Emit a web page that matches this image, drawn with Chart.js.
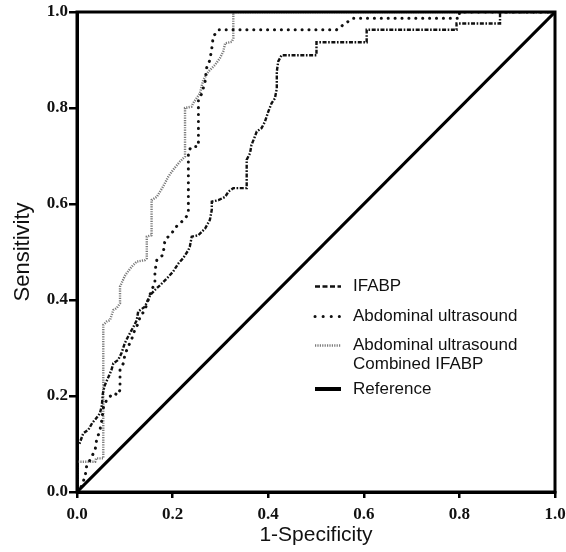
<!DOCTYPE html>
<html>
<head>
<meta charset="utf-8">
<script src="https://cdn.jsdelivr.net/npm/chart.js@4.4.1/dist/chart.umd.min.js"></script>
<style>
  html, body { margin: 0; padding: 0; background: #fff; }
  #wrap { width: 566px; height: 552px; }
</style>
</head>
<body>
<div id="wrap"><canvas id="c" width="566" height="552"></canvas></div>
<script>
// ---- Data ----
const xTicks = [0, 0.2, 0.4, 0.6, 0.8, 1.0];
const yTicks = [0, 0.2, 0.4, 0.6, 0.8, 1.0];

const ifabpX = [0, 0, 0.005, 0.013, 0.024, 0.032, 0.039, 0.048, 0.052, 0.054, 0.058, 0.066, 0.072, 0.076, 0.086, 0.093, 0.100, 0.107, 0.118, 0.125, 0.128, 0.142, 0.153, 0.163, 0.174, 0.188, 0.201, 0.212, 0.222, 0.233, 0.236, 0.240, 0.254, 0.268, 0.278, 0.282, 0.282, 0.296, 0.310, 0.317, 0.327, 0.355, 0.355, 0.362, 0.365, 0.372, 0.376, 0.386, 0.393, 0.400, 0.407, 0.414, 0.418, 0.418, 0.421, 0.428, 0.501, 0.501, 0.606, 0.606, 0.794, 0.794, 0.885, 0.885, 1.0];
const ifabpY = [0, 0.097, 0.100, 0.122, 0.130, 0.144, 0.152, 0.164, 0.180, 0.205, 0.222, 0.240, 0.254, 0.268, 0.275, 0.289, 0.310, 0.324, 0.344, 0.358, 0.376, 0.386, 0.410, 0.421, 0.431, 0.445, 0.459, 0.476, 0.487, 0.504, 0.511, 0.532, 0.535, 0.549, 0.567, 0.588, 0.605, 0.608, 0.615, 0.626, 0.633, 0.633, 0.692, 0.706, 0.723, 0.740, 0.751, 0.758, 0.771, 0.792, 0.810, 0.820, 0.841, 0.876, 0.897, 0.910, 0.910, 0.937, 0.937, 0.963, 0.963, 0.976, 0.976, 1.0, 1.0];

const usX = [0, 0.007, 0.017, 0.020, 0.031, 0.038, 0.041, 0.048, 0.052, 0.055, 0.062, 0.069, 0.076, 0.086, 0.090, 0.090, 0.097, 0.100, 0.107, 0.114, 0.121, 0.128, 0.132, 0.142, 0.149, 0.156, 0.163, 0.163, 0.167, 0.180, 0.184, 0.198, 0.208, 0.219, 0.229, 0.233, 0.233, 0.240, 0.254, 0.254, 0.261, 0.268, 0.271, 0.278, 0.282, 0.285, 0.296, 0.543, 0.561, 0.578, 0.800, 0.800, 1.0];
const usY = [0, 0.007, 0.032, 0.053, 0.074, 0.088, 0.108, 0.129, 0.150, 0.175, 0.192, 0.199, 0.206, 0.202, 0.213, 0.254, 0.268, 0.285, 0.303, 0.317, 0.338, 0.351, 0.365, 0.379, 0.400, 0.421, 0.435, 0.459, 0.483, 0.494, 0.525, 0.539, 0.553, 0.563, 0.574, 0.580, 0.710, 0.720, 0.720, 0.817, 0.830, 0.855, 0.883, 0.900, 0.924, 0.949, 0.963, 0.963, 0.976, 0.987, 0.987, 1.0, 1.0];

const combX = [0, 0, 0.038, 0.040, 0.055, 0.055, 0.062, 0.069, 0.076, 0.083, 0.090, 0.090, 0.100, 0.104, 0.114, 0.125, 0.142, 0.146, 0.146, 0.156, 0.156, 0.167, 0.180, 0.191, 0.201, 0.215, 0.226, 0.226, 0.240, 0.243, 0.257, 0.264, 0.275, 0.289, 0.299, 0.306, 0.310, 0.324, 0.327, 0.327, 1.0];
const combY = [0, 0.063, 0.063, 0.070, 0.070, 0.348, 0.355, 0.358, 0.379, 0.383, 0.393, 0.428, 0.450, 0.456, 0.469, 0.480, 0.483, 0.487, 0.532, 0.535, 0.608, 0.615, 0.636, 0.657, 0.671, 0.688, 0.699, 0.800, 0.803, 0.810, 0.830, 0.858, 0.876, 0.890, 0.904, 0.918, 0.935, 0.938, 0.945, 1.0, 1.0];

const refX = [0, 1];
const refY = [0, 1];

const seriesLabels = ["IFABP", "Abdominal ultrasound", "Abdominal ultrasound\nCombined IFABP", "Reference"];

// ---- Build ----
function pts(xs, ys) { return xs.map((x, i) => ({ x: x, y: ys[i] })); }

const styles = [
  { color: '#111', width: 2.4, dash: [4, 1.6, 1.6, 1.6], cap: 'butt' },
  { color: '#111', width: 3, dash: [0.1, 6.8], cap: 'round' },
  { color: '#7a7a7a', width: 2.4, dash: [1.2, 1.2], cap: 'butt' },
  { color: '#000', width: 3, dash: [], cap: 'butt' }
];

const allData = [pts(ifabpX, ifabpY), pts(usX, usY), pts(combX, combY), pts(refX, refY)];

const datasets = allData.map((d, i) => ({
  label: seriesLabels[i],
  data: d,
  showLine: true,
  fill: false,
  borderColor: styles[i].color,
  borderWidth: styles[i].width,
  borderDash: styles[i].dash,
  borderCapStyle: styles[i].cap,
  borderJoinStyle: 'miter',
  pointRadius: 0,
  tension: 0
}));
datasets[3].order = 0;
datasets[0].order = 1; datasets[1].order = 2; datasets[2].order = 3;

const framePlugin = {
  id: 'frame',
  afterDatasetsDraw(chart) {
    const { ctx, chartArea: a } = chart;
    ctx.save();
    ctx.strokeStyle = '#000';
    ctx.lineWidth = 3;
    ctx.setLineDash([]);
    ctx.strokeRect(a.left, a.top, a.right - a.left, a.bottom - a.top);
    ctx.restore();
  }
};

const legendPlugin = {
  id: 'innerLegend',
  afterDraw(chart) {
    const ctx = chart.ctx;
    const rows = [286.5, 316.5, 345.5, 389];
    const lineX0 = 315, lineX1 = 341, textX = 353;
    ctx.save();
    ctx.font = '17px "Liberation Sans", Arial, sans-serif';
    ctx.fillStyle = '#111';
    ctx.textBaseline = 'middle';
    ctx.textAlign = 'left';
    chart.data.datasets.forEach((ds, i) => {
      const y = rows[i];
      ctx.beginPath();
      ctx.strokeStyle = ds.borderColor;
      ctx.lineWidth = i === 3 ? 4 : ds.borderWidth;
      ctx.lineCap = ds.borderCapStyle;
      ctx.setLineDash(i === 0 ? [5, 2.5] : (i === 1 ? [0.1, 8] : ds.borderDash));
      ctx.moveTo(lineX0, y);
      ctx.lineTo(lineX1, y);
      ctx.stroke();
      ctx.setLineDash([]);
      const lines = ds.label.split('\n');
      lines.forEach((t, k) => ctx.fillText(t, textX, y + k * 18.5));
    });
    ctx.restore();
  }
};

const tickFont = { family: '"Liberation Serif", "Times New Roman", serif', size: 17, weight: 'bold' };

new Chart(document.getElementById('c'), {
  type: 'scatter',
  data: { datasets: datasets },
  options: {
    responsive: false,
    animation: false,
    layout: { padding: { top: 12, left: 0, right: 0, bottom: 0 } },
    plugins: { legend: { display: false }, tooltip: { enabled: false } },
    scales: {
      x: {
        type: 'linear', min: 0, max: 1,
        afterBuildTicks(s) { s.ticks = xTicks.map(v => ({ value: v })); },
        afterFit(s) { s.height = 60; s.paddingRight = 11; s.paddingLeft = 0; },
        ticks: { color: '#111', font: tickFont, padding: 6, maxRotation: 0,
                 callback: v => Number(v).toFixed(1) },
        grid: { display: true, drawOnChartArea: false, drawTicks: true, tickLength: 6, color: '#000', lineWidth: 2.5 },
        border: { display: true, color: '#000', width: 3 },
        title: { display: true, text: '1-Specificity', color: '#111',
                 font: { family: '"Liberation Sans", Arial, sans-serif', size: 21 },
                 padding: { top: 0, bottom: 4 } }
      },
      y: {
        type: 'linear', min: 0, max: 1,
        afterBuildTicks(s) { s.ticks = yTicks.map(v => ({ value: v })); },
        afterFit(s) { s.width = 77; },
        ticks: { color: '#111', font: tickFont, padding: 1,
                 callback: v => Number(v).toFixed(1) },
        grid: { display: true, drawOnChartArea: false, drawTicks: true, tickLength: 8, color: '#000', lineWidth: 2.5 },
        border: { display: true, color: '#000', width: 3 },
        title: { display: true, text: 'Sensitivity', color: '#111',
                 font: { family: '"Liberation Sans", Arial, sans-serif', size: 22 },
                 padding: { top: 10, bottom: 0 } }
      }
    }
  },
  plugins: [framePlugin, legendPlugin]
});
</script>
</body>
</html>
